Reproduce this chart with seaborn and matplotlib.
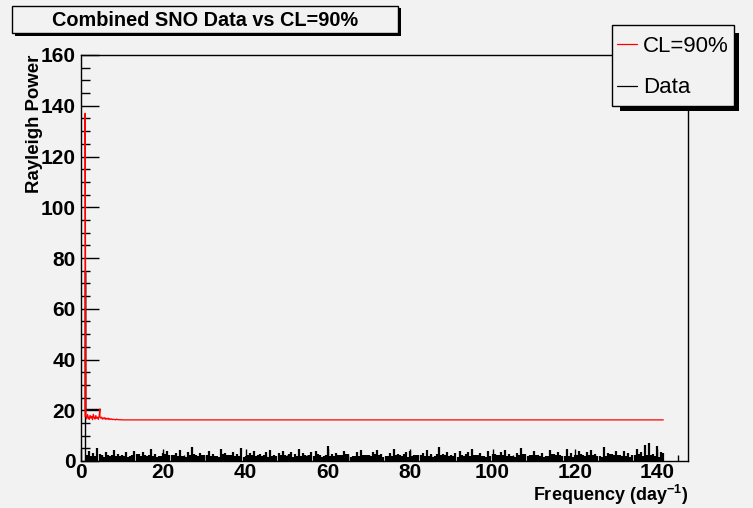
import numpy as np
import pandas as pd
import matplotlib.pyplot as plt
import seaborn as sns
from matplotlib.patches import Rectangle
from matplotlib.lines import Line2D
from matplotlib.ticker import MultipleLocator

BG = '#f2f2f2'

sns.set_theme(style="ticks")
plt.rcParams['font.family'] = ['Liberation Sans', 'DejaVu Sans']
plt.rcParams['font.weight'] = 'bold'
plt.rcParams['text.color'] = 'black'
plt.rcParams['axes.labelcolor'] = 'black'
plt.rcParams['xtick.color'] = 'black'
plt.rcParams['ytick.color'] = 'black'
plt.rcParams['mathtext.fontset'] = 'custom'
plt.rcParams['mathtext.rm'] = 'Liberation Sans:bold'
plt.rcParams['mathtext.it'] = 'Liberation Sans:bold'
plt.rcParams['mathtext.bf'] = 'Liberation Sans:bold'
plt.rcParams['mathtext.default'] = 'rm'

# --- data ---
# first-bin spike and box of the data curve
spike_freq = [4.6, 1.0, 1.0, 1.0]
spike_power = [20.5, 20.5, 74.3, 0.0]

# Rayleigh power of the data, 1.5 .. 141.5 day^-1 every 0.5
data_start, data_step = 1.5, 0.5
data_power = [
    2.2, 3.9, 2.0, 3.0, 1.8, 5.3, 2.6, 2.3, 1.6, 3.6, 2.4, 1.9, 2.2, 4.5, 2.0, 2.8, 1.8, 2.4, 2.0, 3.4,
    1.6, 2.0, 2.2, 4.1, 2.6, 2.6, 1.8, 3.5, 2.4, 1.8, 2.2, 4.9, 2.0, 2.9, 1.6, 2.1, 1.8, 3.3, 2.6, 3.8,
    2.2, 2.4, 2.4, 3.1, 1.8, 4.3, 2.0, 2.0, 1.6, 3.5, 2.2, 5.5, 2.6, 2.5, 1.8, 3.0, 2.4, 2.3, 2.2, 3.9,
    2.0, 2.8, 1.8, 1.9, 1.6, 4.6, 2.6, 3.3, 2.2, 2.4, 2.4, 3.6, 1.8, 2.9, 2.0, 5.1, 1.6, 2.1, 2.2, 3.1,
    2.4, 4.0, 1.8, 2.5, 2.6, 2.0, 2.2, 3.4, 1.6, 4.4, 2.0, 2.3, 1.8, 3.0, 2.4, 3.8, 2.2, 1.9, 2.6, 3.6,
    1.6, 2.6, 1.8, 4.8, 2.0, 3.0, 2.2, 2.1, 2.4, 3.5, 1.8, 4.1, 2.6, 2.5, 1.6, 2.0, 2.2, 5.8, 2.0, 2.8,
    1.8, 3.3, 2.4, 2.4, 2.2, 3.9, 2.6, 2.9, 1.6, 1.9, 1.8, 3.6, 2.0, 4.5, 2.2, 2.5, 2.4, 2.3, 1.8, 3.4,
    2.6, 4.3, 2.2, 2.6, 1.6, 2.0, 2.0, 3.1, 1.8, 4.9, 2.4, 2.8, 2.2, 2.1, 2.6, 3.5, 1.6, 4.0, 1.8, 2.5,
    2.4, 2.4, 2.2, 3.3, 2.0, 4.4, 1.8, 2.9, 1.6, 1.9, 2.6, 5.4, 2.2, 2.6, 2.4, 3.6, 1.8, 2.3, 2.0, 3.0,
    1.6, 3.8, 2.2, 2.0, 2.6, 3.4, 1.8, 4.6, 2.4, 2.5, 2.2, 3.1, 2.0, 2.1, 1.6, 4.1, 1.8, 2.8, 2.6, 2.4,
    2.2, 3.5, 2.4, 4.5, 1.8, 2.6, 2.0, 2.0, 1.6, 3.3, 2.2, 5.0, 2.6, 2.9, 1.8, 2.3, 2.4, 3.9, 2.2, 2.5,
    2.0, 3.1, 1.6, 2.1, 1.8, 4.3, 2.6, 2.8, 2.2, 3.6, 2.4, 1.9, 1.8, 4.8, 2.0, 3.0, 1.6, 2.5, 2.2, 4.0,
    2.6, 2.4, 1.8, 3.4, 2.4, 4.4, 2.2, 2.6, 2.0, 2.0, 1.6, 5.6, 1.8, 3.3, 2.6, 2.8, 2.2, 3.8, 2.4, 2.3,
    1.8, 4.1, 2.0, 3.0, 1.6, 2.5, 2.2, 4.9, 2.6, 3.5, 1.8, 6.4, 2.4, 7.0, 2.2, 2.9, 2.0, 5.8, 1.6, 3.6,
    3.3,
]

# 90% confidence level curve
cl_freq = ([1.0, 1.0] + list(np.linspace(1.2, 4.4, 17)) + [4.6, 4.6]
           + list(np.linspace(4.8, 10.0, 27)) + [141.5])
cl_power = ([17.5, 137.0]
            + [17.8, 16.6, 18.3, 17.1, 16.4, 18.0, 16.9, 17.6, 16.3, 18.4, 17.0, 16.5, 17.9, 16.8, 17.3, 16.4, 17.7]
            + [20.5, 17.4]
            + [16.9, 17.3, 16.5, 17.0, 16.6, 17.1, 16.4, 16.8, 16.5, 16.9, 16.3, 16.7, 16.4, 16.6,
               16.3, 16.5, 16.3, 16.4, 16.2, 16.5, 16.3, 16.4, 16.2, 16.3, 16.2, 16.3, 16.2]
            + [16.2])

data_freq = data_start + data_step * np.arange(len(data_power))
spike_df = pd.DataFrame({'freq': spike_freq, 'power': spike_power})
cl_df = pd.DataFrame({'freq': cl_freq, 'power': cl_power})

W, H = 753, 508
fig = plt.figure(figsize=(W / 100, H / 100), dpi=100, facecolor=BG)
ax = fig.add_axes([81 / W, 47 / H, 607 / W, 406 / H], facecolor=BG)

# dense periodogram: one stroke per frequency sample
ax.vlines(data_freq, 0, data_power, color='black', lw=1.6)
sns.lineplot(data=spike_df, x='freq', y='power', sort=False, estimator=None,
             color='black', lw=1.0, ax=ax, legend=False)
sns.lineplot(data=cl_df, x='freq', y='power', sort=False, estimator=None,
             color='red', lw=0.9, ax=ax, legend=False)

ax.set_xlim(0, 147.5)
ax.set_ylim(0, 160)
ax.xaxis.set_major_locator(MultipleLocator(20))
ax.xaxis.set_minor_locator(MultipleLocator(5))
ax.yaxis.set_major_locator(MultipleLocator(20))
ax.yaxis.set_minor_locator(MultipleLocator(5))
ax.tick_params(axis='y', which='major', direction='in', length=13, width=1,
               labelsize=15, pad=4)
ax.tick_params(axis='y', which='minor', direction='in', length=6.5, width=1)
ax.tick_params(axis='x', which='major', direction='in', length=9, width=1,
               labelsize=15, pad=1.5)
ax.tick_params(axis='x', which='minor', direction='in', length=4.5, width=1)
for s in ax.spines.values():
    s.set_color('black')
    s.set_linewidth(1)

ax.set_ylabel('Rayleigh Power', fontsize=13.4, fontweight='bold', loc='top')
ax.yaxis.set_label_coords(-0.063, 1.0)
ax.set_xlabel('Frequency (day$^{-1}$)', fontsize=13, fontweight='bold', loc='right')
ax.xaxis.set_label_coords(1.0, -0.053)

# title box with shadow (ROOT style)
fig.patches.append(Rectangle((14.5 / W, 1 - 35.5 / H), 386 / W, 27 / H, transform=fig.transFigure,
                             facecolor='black', edgecolor='none', zorder=1))
fig.patches.append(Rectangle((12 / W, 1 - 33 / H), 386 / W, 27 / H, transform=fig.transFigure,
                             facecolor=BG, edgecolor='black', lw=1, zorder=2))
fig.text(205 / W, 1 - 20 / H, 'Combined SNO Data vs CL=90%', ha='center', va='center',
         fontsize=14.3, fontweight='bold', zorder=3)

# legend box with shadow
fig.patches.append(Rectangle((620 / W, 1 - 111 / H), 119 / W, 78 / H, transform=fig.transFigure,
                             facecolor='black', edgecolor='none', zorder=4))
fig.patches.append(Rectangle((612 / W, 1 - 106 / H), 122 / W, 81 / H, transform=fig.transFigure,
                             facecolor=BG, edgecolor='black', lw=1, zorder=5))
handles = [Line2D([], [], color='red', lw=0.9), Line2D([], [], color='black', lw=0.9)]
leg = fig.legend(handles, ['CL=90%', 'Data'], loc='center',
                 bbox_to_anchor=(673 / W, 1 - 67 / H), frameon=False,
                 prop={'weight': 'normal', 'size': 16}, handlelength=0.9,
                 handletextpad=0.27, labelspacing=0.93)
leg.set_zorder(6)

fig.savefig('out.png', dpi=100, facecolor=BG)
